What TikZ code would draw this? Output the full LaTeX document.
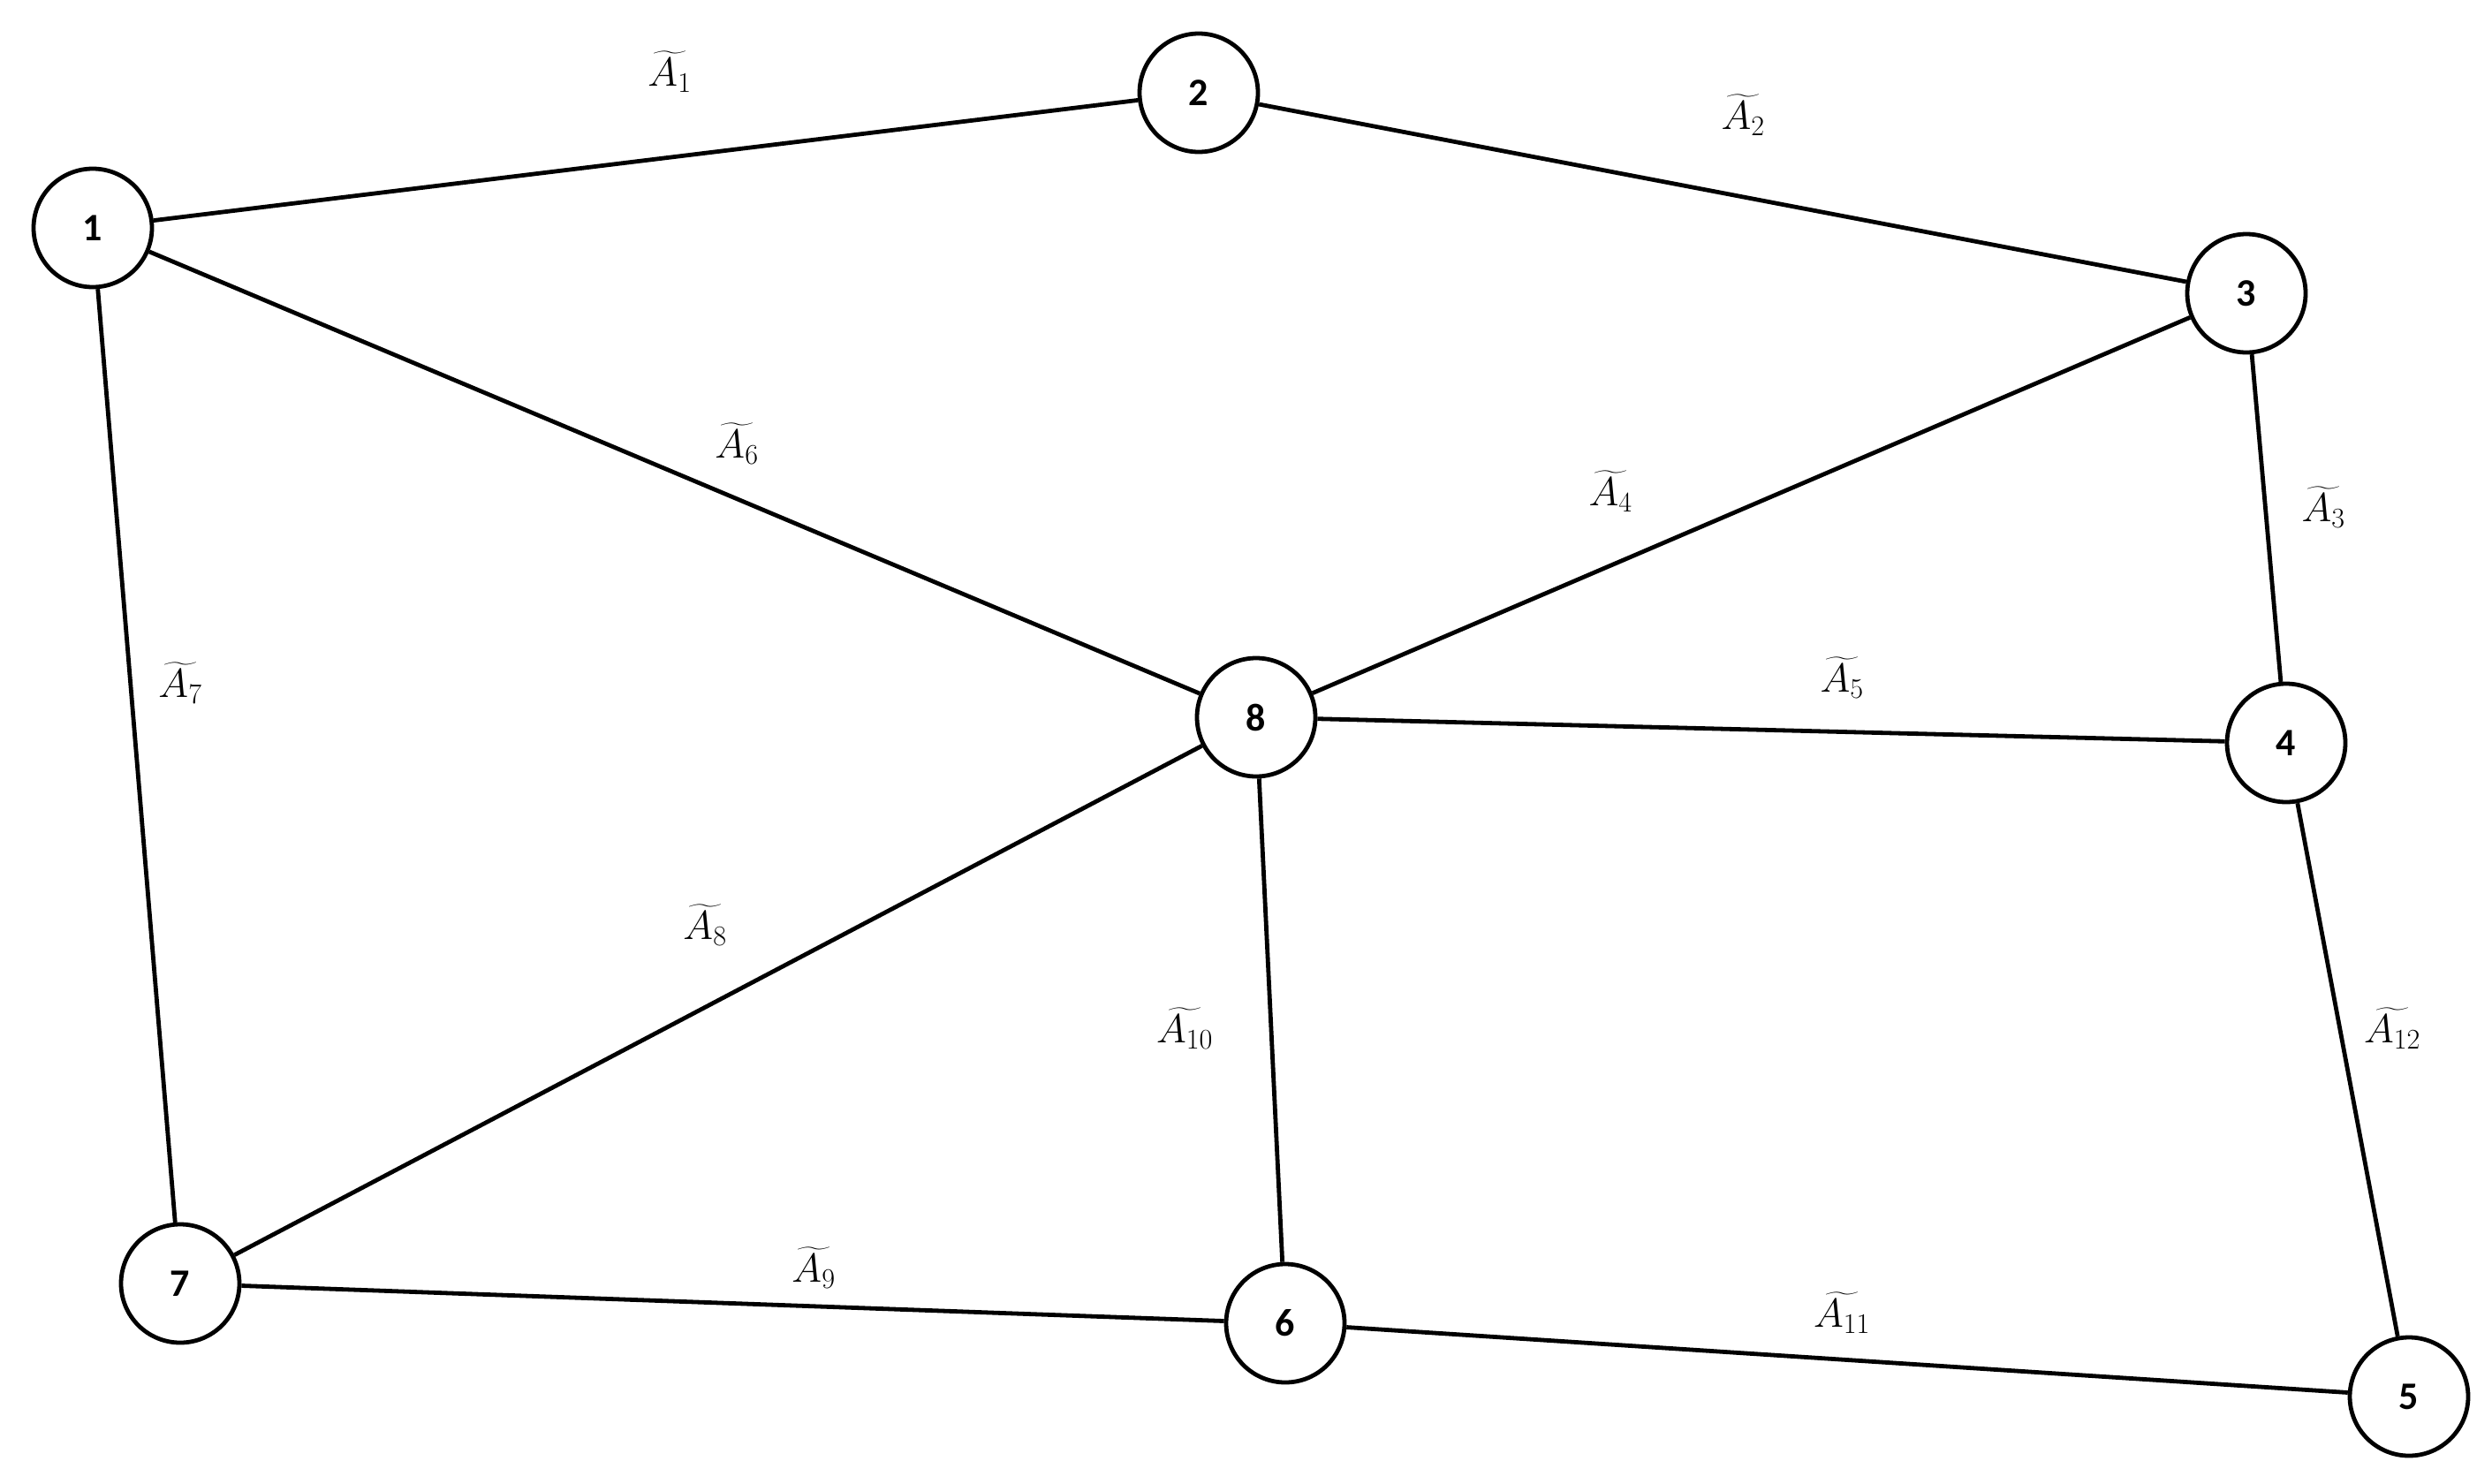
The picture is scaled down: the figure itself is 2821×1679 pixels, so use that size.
\RequirePackage{fix-cm}
\documentclass[tikz,border=0pt]{standalone}
\usepackage{amsmath}
\usepackage{fontspec}
\newfontfamily\nodefont{Carlito}
\begin{document}
\begin{tikzpicture}[x=1pt,y=-1pt,
  v/.style={circle,draw,line width=4.8pt,minimum size=134pt,inner sep=0pt,font=\nodefont\bfseries\fontsize{44}{52}\selectfont},
  e/.style={line width=4.8pt},
  lab/.style={font=\fontsize{46}{54}\selectfont}]
\useasboundingbox[fill=white] (0,0) rectangle (2821,1679);
\node[v] (n1) at (105,258) {1};
\node[v] (n2) at (1357,105) {2};
\node[v] (n3) at (2543,332) {3};
\node[v] (n4) at (2588,841) {4};
\node[v] (n5) at (2727,1581) {5};
\node[v] (n6) at (1455,1498) {6};
\node[v] (n7) at (204,1453) {7};
\node[v] (n8) at (1422,812) {8};
\draw[e] (n1)--(n2); \draw[e] (n2)--(n3); \draw[e] (n3)--(n4);
\draw[e] (n3)--(n8); \draw[e] (n8)--(n4); \draw[e] (n1)--(n8);
\draw[e] (n1)--(n7); \draw[e] (n7)--(n8); \draw[e] (n7)--(n6);
\draw[e] (n8)--(n6); \draw[e] (n6)--(n5); \draw[e] (n4)--(n5);
\node[lab] (l1) at (758,81) {$\widetilde{A_1}$};
\node[lab] (l2) at (1973,130) {$\widetilde{A_2}$};
\node[lab] (l3) at (2630,574) {$\widetilde{A_3}$};
\node[lab] (l4) at (1823,556) {$\widetilde{A_4}$};
\node[lab] (l5) at (2085,767) {$\widetilde{A_5}$};
\node[lab] (l6) at (834,502) {$\widetilde{A_6}$};
\node[lab] (l7) at (204,773) {$\widetilde{A_7}$};
\node[lab] (l8) at (798,1047) {$\widetilde{A_8}$};
\node[lab] (l9) at (921,1435) {$\widetilde{A_9}$};
\node[lab] (l10) at (1341,1164) {$\widetilde{A_{10}}$};
\node[lab] (l11) at (2085,1486) {$\widetilde{A_{11}}$};
\node[lab] (l12) at (2708,1164) {$\widetilde{A_{12}}$};
\end{tikzpicture}
\end{document}
